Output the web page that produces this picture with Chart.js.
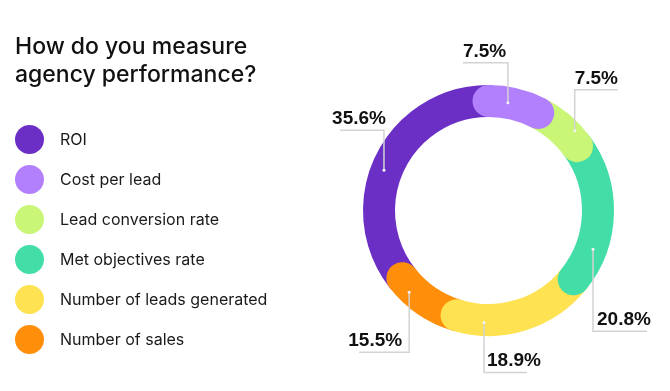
<!DOCTYPE html>
<html>
<head>
<meta charset="utf-8">
<script src="https://cdn.jsdelivr.net/npm/chart.js@4.4.1/dist/chart.umd.min.js"></script>
<style>
  body { margin: 0; background: #fff; }
  #wrap { position: relative; width: 670px; height: 391px; overflow: hidden; }
  #chart { position: absolute; left: 0; top: 0; }
  #title {
    position: absolute; left: 15px; top: 32px;
    font-family: Inter, sans-serif; font-size: 23px; line-height: 28px;
    color: #111; font-weight: 500;
  }
  #legend { position: absolute; left: 15px; top: 119px; }
  .row { display: flex; align-items: center; height: 40px; }
  .dot { width: 29px; height: 29px; border-radius: 50%; margin-right: 16px; }
  .lbl { font-family: Inter, sans-serif; font-size: 16px; color: #1a1a1a; }
</style>
</head>
<body>
<div id="wrap">
  <canvas id="chart" width="670" height="391"></canvas>
  <div id="title">How do you measure<br>agency performance?</div>
  <div id="legend"></div>
</div>
<script>
// ---------------- data ----------------
const labels = ['ROI', 'Cost per lead', 'Lead conversion rate', 'Met objectives rate', 'Number of leads generated', 'Number of sales'];
const shares = [35.6, 7.5, 7.5, 20.8, 18.9, 15.5];
const colors = ['#6B2FC6', '#B380FD', '#C9F676', '#43DDA8', '#FFE251', '#FF8F0A'];

// where each callout sits on its slice (style only)
const callouts = [
  { frac: 0.462, rOff: 2.5, rise: -40, run: -44, side: 'right', tx: 2 },
  { frac: 0.378, rOff: 0,   rise: -40, run: -45, side: 'left',  tx: -45 },
  { frac: 0.748, rOff: 8,   rise: -41, run: 43,  side: 'left',  tx: 0 },
  { frac: 0.753, rOff: 2,   rise: 82,  run: 54,  side: 'left',  tx: 4 },
  { frac: 0.785, rOff: 2.5, rise: 50,  run: 43,  side: 'left',  tx: 3 },
  { frac: 0.487, rOff: 4.5, rise: 60,  run: -50, side: 'right', tx: -7 }
];

// ---------------- legend ----------------
const legend = document.getElementById('legend');
labels.forEach((name, i) => {
  const row = document.createElement('div');
  row.className = 'row';
  row.innerHTML = `<div class="dot" style="background:${colors[i]}"></div><div class="lbl">${name}</div>`;
  legend.appendChild(row);
});

// ---------------- plugins ----------------
// rounded, overlapping ring segments
const roundRing = {
  id: 'roundRing',
  beforeDatasetDraw(chart, args) {
    const ctx = chart.ctx;
    const arcs = args.meta.data;
    const n = arcs.length;
    const order = [0].concat(arcs.map((_, i) => i).slice(1).reverse());
    ctx.save();
    ctx.lineCap = 'round';
    order.forEach(i => {
      const a = arcs[i].getProps(['x', 'y', 'startAngle', 'endAngle', 'innerRadius', 'outerRadius'], true);
      const closeAt = i === n - 1 ? arcs[0].startAngle + Math.PI * 2 : a.endAngle;
      const end = Math.min(a.endAngle, closeAt);
      ctx.beginPath();
      ctx.arc(a.x, a.y, (a.innerRadius + a.outerRadius) / 2, a.startAngle, end);
      ctx.strokeStyle = colors[i];
      ctx.lineWidth = a.outerRadius - a.innerRadius;
      ctx.stroke();
    });
    ctx.restore();
    return false;
  }
};

const calloutLabels = {
  id: 'calloutLabels',
  afterDatasetsDraw(chart) {
    const ctx = chart.ctx;
    const arcs = chart.getDatasetMeta(0).data;
    ctx.save();
    arcs.forEach((el, i) => {
      const a = el.getProps(['x', 'y', 'startAngle', 'endAngle', 'innerRadius', 'outerRadius'], true);
      const c = callouts[i];
      const ang = a.startAngle + c.frac * (a.endAngle - a.startAngle);
      const r = (a.innerRadius + a.outerRadius) / 2 + c.rOff;
      const ax = a.x + r * Math.cos(ang);
      const ay = a.y + r * Math.sin(ang);
      const ey = ay + c.rise;
      ctx.beginPath();
      ctx.moveTo(ax, ay);
      ctx.lineTo(ax, ey);
      ctx.lineTo(ax + c.run, ey);
      ctx.strokeStyle = '#d3d3d3';
      ctx.lineWidth = 1.5;
      ctx.stroke();
      ctx.fillStyle = '#f2f2f2';
      ctx.beginPath();
      ctx.arc(ax, ay, 1.5, 0, Math.PI * 2);
      ctx.fill();
      ctx.fillStyle = '#111';
      ctx.font = 'bold 19px "Liberation Sans", Arial, sans-serif';
      ctx.textAlign = c.side;
      ctx.textBaseline = 'alphabetic';
      ctx.fillText(shares[i].toFixed(1) + '%', ax + c.tx, ey - 6);
    });
    ctx.restore();
  }
};

// ---------------- chart ----------------
const total = shares.reduce((s, v) => s + v, 0);

new Chart(document.getElementById('chart').getContext('2d'), {
  type: 'doughnut',
  data: {
    labels: labels,
    datasets: [{
      data: shares,
      backgroundColor: colors,
      borderWidth: 0
    }]
  },
  options: {
    responsive: false,
    animation: false,
    devicePixelRatio: 1,
    cutout: '74.5%',
    circumference: total * 3.6,
    rotation: -shares[0] * 3.6,
    layout: { padding: { left: 363, right: 56, top: 85, bottom: 55 } },
    plugins: {
      legend: { display: false },
      tooltip: { enabled: false }
    }
  },
  plugins: [roundRing, calloutLabels]
});
</script>
</body>
</html>
